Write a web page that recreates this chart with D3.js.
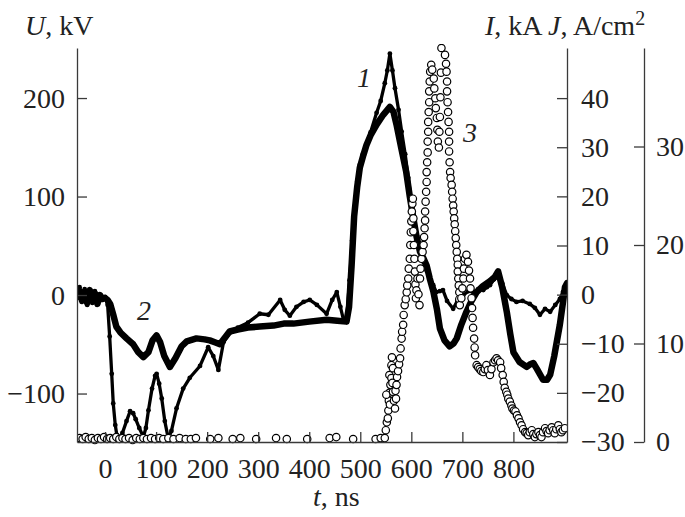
<!DOCTYPE html>
<meta charset="utf-8">
<style>
  body { margin: 0; background: #fff; }
  text { font-family: "Liberation Serif", "Times New Roman", serif; fill: #222; }
</style>
<svg width="685" height="517"></svg>
<script src="https://d3js.org/d3.v7.min.js"></script>
<script>
// curve 1: [t, ns ; U, kV]
var curve1 = [[-55, 2], [-50, 8], [-45, -5], [-40, 6], [-35, -10], [-30, 2], [-25, -8], [-20, 4], [-15, -6], [-10, 0], [-5, -3], [0, -2],
  [5, -10], [9, -42], [13, -80], [16, -110], [20, -132], [23, -142], [28, -147], [34, -140], [42, -128], [49, -118], [55, -120],
  [60, -126], [67, -135], [75, -144], [80, -135], [85, -117], [92, -95], [98, -82], [101, -80], [106, -90], [111, -105],
  [117, -128], [124, -146], [130, -138], [140, -115], [153, -95], [166, -84], [186, -72], [202, -53], [212, -62], [222, -76],
  [232, -48], [245, -38], [260, -33], [280, -28], [303, -19], [320, -20], [343, -5], [352, -15], [362, -21], [375, -12],
  [389, -7], [401, -5], [415, -10], [434, -19], [445, -5], [454, 3], [461, -12], [467, -25], [473, -26], [479, 15], [484, 55],
  [489, 90], [494, 115], [499, 132], [505, 143], [512, 152], [520, 165], [532, 185], [540, 197], [548, 215], [553, 228],
  [558, 245], [563, 228], [568, 210], [575, 188], [581, 166], [588, 143], [594, 119], [602, 88], [610, 58], [617, 44],
  [623, 34], [630, 25], [636, 17], [643, 10], [649, 3], [656, 4], [662, 5], [670, -6], [682, -14], [690, -6], [702, 0],
  [712, 4], [721, 3], [731, 6], [741, 5], [748, 8], [754, 10], [762, 16], [770, 22], [778, 12], [787, 0], [796, -4],
  [806, -7], [818, -6], [832, -9], [842, -13], [852, -20], [862, -14], [872, -17], [882, -10], [891, -4], [897, 3], [901, 9], [905, 8]];

// curve 2: [t, ns ; U, kV]
var curve2 = [[-55, -2], [-50, 4], [-45, -6], [-40, 3], [-35, -8], [-30, 5], [-25, -5], [-20, 2], [-15, -9], [-10, 0], [-5, -4],
  [0, -3], [5, -5], [10, -9], [16, -20], [22, -32], [30, -38], [42, -44], [55, -50], [65, -58], [75, -63], [85, -58],
  [93, -46], [101, -41], [108, -48], [116, -62], [127, -73], [138, -64], [150, -52], [160, -47], [179, -44], [195, -45],
  [205, -46], [215, -48], [225, -50], [235, -43], [244, -37], [260, -35], [280, -33], [303, -32], [330, -31], [350, -29],
  [369, -29], [400, -27], [434, -25], [455, -26], [473, -27], [478, -12], [483, 30], [488, 80], [494, 110], [499, 129],
  [506, 142], [512, 152], [520, 162], [532, 173], [545, 183], [558, 191], [565, 186], [571, 173], [580, 150], [590, 125],
  [597, 100], [604, 78], [610, 60], [617, 44], [624, 37], [630, 30], [636, 17], [643, 4], [650, -14], [656, -34], [665, -46],
  [675, -52], [683, -49], [689, -44], [698, -30], [708, -17], [718, -6], [728, 3], [740, 9], [754, 14], [763, 18], [770, 24],
  [778, 8], [787, -17], [794, -40], [800, -58], [812, -68], [826, -73], [834, -70], [839, -69], [846, -75], [858, -86],
  [866, -86], [872, -81], [880, -62], [891, -30], [897, -8], [901, 8], [905, 12]];

// curve 3 (circles): [t, ns ; J, A/cm2]
var curve3 = [[-50, 0.4], [-44, 0.3], [-38, 0.5], [-32, 0.3], [-26, 0.4], [-20, 0.2], [-14, 0.4], [-8, 0.3], [-2, 0.5], [4, 0.3],
  [10, 0.4], [16, 0.3], [22, 0.5], [28, 0.3], [34, 0.4], [40, 0.3], [47, 0.4], [54, 0.2], [61, 0.4], [68, 0.3], [75, 0.4],
  [82, 0.3], [90, 0.4], [98, 0.3], [106, 0.4], [114, 0.3], [124, 0.4], [134, 0.3], [146, 0.4], [158, 0.3], [168, 0.3],
  [178, 0.4], [206, 0.3], [222, 0.4], [250, 0.3], [265, 0.4], [296, 0.3], [335, 0.4], [356, 0.3], [396, 0.3], [440, 0.4],
  [453, 0.5], [486, 0.3], [530, 0.3], [540, 0.4],
  [548, 0.4], [550, 1.2], [552, 2], [554, 2.4], [555, 3.2], [556, 4.2], [557, 5], [551, 4.8], [557, 6.8], [558, 3.8],
  [559, 5.8], [561, 6.5], [561, 7.8], [562, 8.6], [563, 6], [564, 5.1], [564, 7.5], [566, 4.2], [568, 3.4], [569, 5.2],
  [570, 4.4], [571, 5.8], [572, 6.6], [574, 7.2], [576, 7.9], [578, 8.5], [579, 9.5], [581, 10.5], [582, 11.2], [584, 11.9],
  [585, 12.9], [587, 13.9], [589, 14.5], [591, 15.2], [592, 15.9], [594, 16.6], [595, 17.6], [597, 18.6], [598, 20],
  [599, 21.3], [600, 22.4], [601, 23.4], [602, 24.2], [603, 24.7], [604, 22.7], [604, 21.4], [605, 20], [606, 18.6],
  [607, 17.3], [608, 16], [609, 14.6], [610, 15.4], [612, 16.6], [614, 15], [616, 13.9], [617, 16.6], [618, 17.6],
  [620, 18.6], [622, 19.3], [624, 20], [625, 20.8], [626, 21.7], [627, 22.5], [627, 23.4], [628, 24.4], [629, 25.4],
  [630, 26.4], [630, 27.4], [631, 28.4], [632, 29.4], [632, 30.5], [633, 31.5], [633, 32.5], [634, 33.5], [635, 34.5],
  [635, 35.6], [636, 36.6], [637, 37.6], [639, 38.3], [641, 37.8], [644, 36.9], [645, 35.9], [647, 34.9], [648, 33.9],
  [650, 32.9], [651, 31.7], [652, 30.5], [654, 29.9], [655, 31.5], [656, 33], [657, 35], [658, 37.5], [659, 40], [662, 41],
  [666, 39.3], [668, 38.4], [669, 37.6], [670, 36.6], [670, 35.6], [671, 34.5], [672, 33.5], [673, 32.5], [674, 31.5],
  [674, 30.5], [674, 29.5], [675, 28.4], [676, 27.4], [677, 26.8], [679, 26.1], [680, 25.4], [681, 24.7], [682, 24],
  [683, 23.4], [684, 22.7], [685, 22.1], [686, 21.4], [687, 20.7], [688, 20], [689, 19.3], [690, 18.6], [691, 18],
  [691, 17.3], [692, 16.6], [693, 15.9], [694, 15.2], [694, 14.5], [695, 13.9], [698, 14.6], [700, 15.6], [702, 16.6],
  [703, 17.6], [705, 18.6], [708, 19], [711, 18.3], [713, 17.4], [715, 16.6], [716, 15.6], [718, 14.6], [719, 13.6],
  [720, 12.6], [721, 11.6], [723, 10.5], [724, 9.6], [725, 8.8], [728, 7.8], [731, 7.6], [734, 7.4], [737, 7.2], [741, 7.1],
  [744, 7.4], [747, 7.8], [750, 7.3], [754, 6.8], [757, 7.4], [761, 8.1], [764, 8.3], [767, 8.5], [770, 8.3], [774, 8.1],
  [776, 7.5], [779, 6.8], [781, 6.1], [783, 5.5], [786, 5.1], [788, 4.8], [790, 4.4], [793, 4.1], [796, 3.7], [798, 3.4],
  [801, 3.2], [804, 3.1], [807, 2.7], [810, 2.4], [813, 2], [816, 1.7], [819, 1.3], [823, 1], [826, 0.9], [829, 0.7],
  [832, 1], [836, 1.2], [839, 0.8], [842, 0.5], [845, 0.8], [849, 1], [852, 0.7], [855, 0.5], [858, 1], [862, 1.4],
  [865, 1.1], [868, 0.9], [871, 1.2], [875, 1.5], [878, 1.2], [881, 0.9], [884, 1.3], [888, 1.7], [891, 1.3], [894, 1],
  [897, 1.2], [901, 1.4]];

var tTicks = [0, 100, 200, 300, 400, 500, 600, 700, 800];
var uTicks = [-100, 0, 100, 200];
var iTicks = [-30, -20, -10, 0, 10, 20, 30, 40];
var jTicks = [0, 10, 20, 30];

var svg = d3.select("svg");
var x0 = 77, x1 = 567, y0 = 442, y1 = 48, jAxisX = 644;

var x = d3.scaleLinear().domain([-55, 905]).range([x0, x1]);
var yU = d3.scaleLinear().domain([-149.2, 250.8]).range([y0, y1]);
var yI = d3.scaleLinear().domain([-30, 50.2]).range([y0, y1]);
var yJ = d3.scaleLinear().domain([0, 40]).range([y0, y1]);

svg.append("clipPath").attr("id", "plot")
  .append("rect").attr("x", x0).attr("y", y1 - 4).attr("width", x1 - x0).attr("height", y0 - y1 + 8);

var plot = svg.append("g").attr("clip-path", "url(#plot)");
var line = d3.line().x(d => x(d[0])).y(d => yU(d[1]));

plot.append("path").datum(curve2)
  .attr("d", line).attr("fill", "none").attr("stroke", "#000")
  .attr("stroke-width", 6.5).attr("stroke-linejoin", "round").attr("stroke-linecap", "round");

plot.append("path").datum(curve1)
  .attr("d", line).attr("fill", "none").attr("stroke", "#000")
  .attr("stroke-width", 3.3).attr("stroke-linejoin", "round");
plot.selectAll(".d1").data(curve1).enter().append("circle")
  .attr("cx", d => x(d[0])).attr("cy", d => yU(d[1])).attr("r", 2.4).attr("fill", "#000");

plot.selectAll(".c3").data(curve3).enter().append("circle")
  .attr("cx", d => x(d[0])).attr("cy", d => yJ(d[1])).attr("r", 3.7)
  .attr("fill", "#fff").attr("stroke", "#000").attr("stroke-width", 1.2);

// axes
var axisColor = "#3a3a3a";
var fs = "28px";

var gx = svg.append("g").attr("transform", "translate(0," + y0 + ")")
  .call(d3.axisBottom(x).tickValues(tTicks).tickSizeInner(-10).tickSizeOuter(0));
var gu = svg.append("g").attr("transform", "translate(" + x0 + ",0)")
  .call(d3.axisLeft(yU).tickValues(uTicks).tickSizeInner(-10).tickSizeOuter(0).tickPadding(12));
var gi = svg.append("g").attr("transform", "translate(" + x1 + ",0)")
  .call(d3.axisRight(yI).tickValues(iTicks).tickSizeInner(-10).tickSizeOuter(0).tickPadding(14));
var gj = svg.append("g").attr("transform", "translate(" + jAxisX + ",0)")
  .call(d3.axisRight(yJ).tickValues(jTicks).tickSizeInner(-10).tickSizeOuter(0).tickPadding(12));

[gx, gu, gi, gj].forEach(function(g) {
  g.attr("font-family", null).attr("font-size", null);
  g.select(".domain").attr("stroke", axisColor).attr("stroke-width", 1.3);
  g.selectAll(".tick line").attr("stroke", axisColor).attr("stroke-width", 1.3);
  g.selectAll(".tick text").attr("font-size", fs).attr("fill", "#222");
});
gx.selectAll(".tick text").attr("y", 16).attr("dy", "0.71em");

// titles
var t1 = svg.append("text").attr("x", 25).attr("y", 35).attr("font-size", fs);
t1.append("tspan").attr("font-style", "italic").text("U");
t1.append("tspan").text(", kV");

var t2 = svg.append("text").attr("x", 485).attr("y", 35).attr("font-size", fs);
t2.append("tspan").attr("font-style", "italic").text("I");
t2.append("tspan").text(", kA ");
t2.append("tspan").attr("font-style", "italic").text("J");
t2.append("tspan").text(", A/cm");
t2.append("tspan").attr("dy", -10).attr("font-size", "20px").text("2");

var t3 = svg.append("text").attr("x", 313).attr("y", 506).attr("font-size", fs);
t3.append("tspan").attr("font-style", "italic").text("t");
t3.append("tspan").text(", ns");

// curve labels
svg.append("text").attr("x", 357).attr("y", 87).attr("font-size", fs).attr("font-style", "italic").text("1");
svg.append("text").attr("x", 137).attr("y", 320).attr("font-size", fs).attr("font-style", "italic").text("2");
svg.append("text").attr("x", 463).attr("y", 142).attr("font-size", fs).attr("font-style", "italic").text("3");
</script>
